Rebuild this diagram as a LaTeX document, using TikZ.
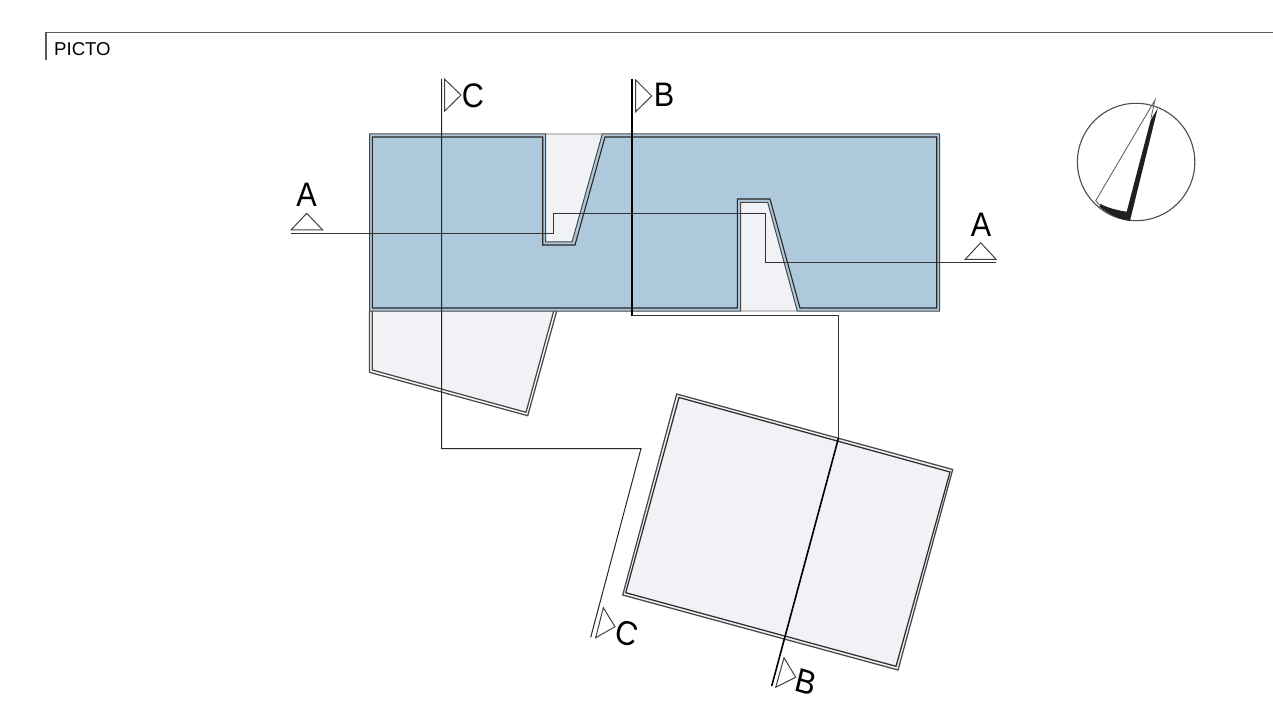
\documentclass[tikz,border=0pt]{standalone}
\usepackage{fontspec}
\setmainfont{Liberation Sans}
\definecolor{planblue}{HTML}{ADC9DB}
\definecolor{planlight}{HTML}{F1F2F6}
\tikzset{
  wallout/.style={draw=black!72,line width=1.25pt,line join=miter},
  wallin/.style={draw=black!82,line width=1.25pt,line join=miter},
  openedge/.style={draw=black!22,line width=1.2pt},
  seca/.style={draw=black!80,line width=1pt},
  secb/.style={draw=black,line width=2pt},
  flag/.style={draw=black!75,line width=1pt,line join=miter},
  marklabel/.style={font=\fontsize{34}{34}\selectfont,inner sep=0pt,text=black,xscale=.9},
}
\begin{document}
\begin{tikzpicture}[x=1pt,y=-1pt]
\useasboundingbox (0,0) rectangle (1273,719);
% header
\draw[draw=black!65,line width=1.1pt] (46,60) -- (46,32.5) -- (1273,32.5);
\node[font=\fontsize{18.6}{19}\selectfont,inner sep=0pt,anchor=west] (picto) at (54,48.7) {PICTO};
% notch floors and lower rooms
\fill[planlight] (545.7,134) -- (545.7,242) -- (572,242) -- (602.3,134) -- cycle;
\fill[planlight] (740.7,202) -- (767.7,202) -- (797.3,311) -- (740.7,311) -- cycle;
\filldraw[fill=planlight,wallout] (553.7,311) -- (526,412.3) -- (372.3,370) -- (372.3,311);
\draw[wallout] (556.7,311) -- (527.7,415.7) -- (369.5,372.3) -- (369.5,311);
\filldraw[fill=planlight,wallout] (676.7,394) -- (952.7,469.5) -- (898,670) -- (622.7,595) -- cycle;
\draw[wallin] (679,397.5) -- (950,472) -- (896,666.3) -- (625.7,592.7) -- cycle;
% blue floor
\fill[planblue] (369.5,134) -- (545.7,134) -- (545.7,242) -- (572,242) -- (602.3,134) -- (939.5,134) -- (939.5,311) -- (797.3,311) -- (767.7,202) -- (740.7,202) -- (740.7,311) -- (369.5,311) -- cycle;
\draw[openedge] (545.7,134) -- (602.3,134);
\draw[openedge] (740.7,311) -- (797.3,311);
% walls
\draw[draw=black!72,line width=1pt] (545.7,134) -- (369.5,134) -- (369.5,311) -- (740.7,311) -- (740.7,202.3) -- (767.7,202.3) -- (797.3,311) -- (939.5,311) -- (939.5,134) -- (602.3,134) -- (572,242) -- (545.7,242) -- cycle;
\draw[draw=black!85,line width=1.1pt] (372.3,137) -- (542.7,137) -- (542.7,245) -- (575,245) -- (605,137) -- (936.7,137) -- (936.7,308) -- (800,308) -- (770,199) -- (737.3,199) -- (737.3,308) -- (372.3,308) -- cycle;
% section A
\draw[seca] (291,233.5) -- (553.5,233.5) -- (553.5,213.5) -- (765.5,213.5) -- (765.5,262.5) -- (996,262.5);
\draw[flag] (291,230) -- (306.7,213.3) -- (322.7,230) -- cycle;
\draw[flag] (965.3,259.3) -- (980.7,242.7) -- (996,259.3) -- cycle;
\node[marklabel] (al) at (306.7,195) {A};
\node[marklabel] (ar) at (981,224.5) {A};
% section C
\draw[draw=black!85,line width=1pt] (441.5,79) -- (441.5,448.5) -- (641,448.5) -- (590.7,637.3);
\draw[flag] (444.7,79.3) -- (461,95) -- (444.7,111) -- cycle;
\draw[flag] (595.7,637.7) -- (603.3,607.7) -- (615,626.7) -- cycle;
\node[marklabel] (ct) at (473,95.3) {C};
\node[marklabel,rotate=-15] (cb) at (626.7,633.3) {C};
% section B
\draw[secb] (632,79) -- (632,315.5);
\draw[seca] (632,315.5) -- (838.5,315.5) -- (838.5,438);
\draw[draw=black,line width=1.6pt] (838.5,438) -- (771.7,686);
\draw[flag] (635.7,80) -- (651.7,96) -- (635.7,111.7) -- cycle;
\draw[flag] (775.7,687.3) -- (784,657.7) -- (795.7,677.3) -- cycle;
\node[marklabel] (bt) at (664,95.3) {B};
\node[marklabel,rotate=-15] (bb) at (806,681.7) {B};
% north point
\draw[draw=black!70,line width=1.1pt] (1136.1,162) circle (58.7);
\fill[black!88] (1157.7,108.3) -- (1130,220.7) .. controls (1119,219.5) and (1108,214) .. (1099.3,206.5) -- (1100.5,204) .. controls (1108,208) and (1118,210.5) .. (1126.7,211.7) -- (1150.7,120) -- cycle;
\draw[draw=black!60,line width=.9pt] (1099.5,205) -- (1095.7,200.7) -- (1155,100) -- (1151,118);
\end{tikzpicture}
\end{document}
